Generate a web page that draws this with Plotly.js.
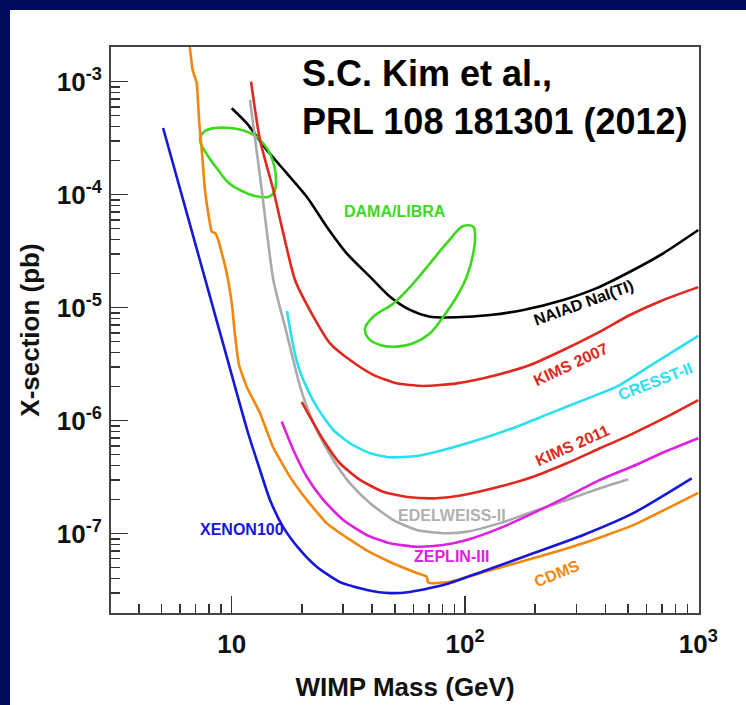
<!DOCTYPE html>
<html><head><meta charset="utf-8">
<script src="https://cdn.plot.ly/plotly-3.0.1.min.js"></script>
<style>
html,body{margin:0;padding:0;background:#020b5b;width:746px;height:705px;overflow:hidden}
#chart{position:absolute;left:10px;top:10px;width:736px;height:695px;background:#fff}
</style>
</head><body><div id="chart"></div>
<script>
// ---- data (WIMP mass in GeV, cross-section in pb) ----
const xenonMass = [5.08, 6.63, 7.99, 9.09, 11.75, 13.22, 14.59, 16.6, 19.63, 23.2, 29.1, 38.0, 47.7, 58.1, 70.8, 86.3, 119.8, 196, 321.5, 526.5, 937];
const xenonXsec = [3.89e-4, 5.4e-5, 1.35e-5, 5.18e-6, 7.78e-7, 3.66e-7, 1.99e-7, 1.15e-7, 7.18e-8, 5.07e-8, 3.73e-8, 3.18e-8, 2.98e-8, 3.05e-8, 3.30e-8, 3.66e-8, 4.65e-8, 6.71e-8, 9.75e-8, 1.52e-7, 3.09e-7];

const cdmsMass = [6.56, 6.80, 7.08, 7.26, 7.44, 7.68, 8.02, 8.21, 8.48, 8.76, 9.52, 10.03, 10.33, 10.75, 11.59, 13.22, 15.03, 17.78, 20.97, 25.5, 32.2, 36.5, 37.9, 47.7, 62.1, 68.5, 69.4, 72.0, 86.3, 119.8, 196, 321.5, 526.5, 1000];
const cdmsXsec = [2.34e-3, 1.27e-3, 9.74e-4, 4.32e-4, 2.49e-4, 1.10e-4, 5.97e-5, 4.71e-5, 4.58e-5, 3.97e-5, 2.03e-5, 1.05e-5, 5.73e-6, 3.11e-6, 2.0e-6, 1.17e-6, 5.85e-7, 3.18e-7, 1.99e-7, 1.24e-7, 8.80e-8, 7.48e-8, 7.1e-8, 5.62e-8, 4.49e-8, 4.16e-8, 3.71e-8, 3.64e-8, 3.76e-8, 4.55e-8, 6.05e-8, 8.22e-8, 1.19e-7, 2.3e-7];

const zeplinMass = [16.38, 18.37, 20.97, 24.70, 30.08, 37.9, 47.7, 62.1, 80.7, 101.7, 141.3, 196, 273, 379, 526.5, 732, 1000];
const zeplinXsec = [9.82e-7, 5.50e-7, 3.19e-7, 1.99e-7, 1.32e-7, 9.73e-8, 8.22e-8, 7.67e-8, 7.94e-8, 8.80e-8, 1.12e-7, 1.52e-7, 2.12e-7, 2.99e-7, 3.97e-7, 5.39e-7, 6.98e-7];

const edelweissMass = [11.98, 13.45, 15.08, 17.06, 19.30, 20.27, 23.13, 27.26, 32.15, 39.2, 49.3, 62.1, 80.7, 101.7, 141.3, 196, 273, 379, 501];
const edelweissXsec = [6.89e-4, 1.10e-4, 1.76e-5, 6.35e-6, 2.29e-6, 1.63e-6, 8.27e-7, 4.49e-7, 2.79e-7, 1.86e-7, 1.32e-7, 1.08e-7, 1.01e-7, 1.04e-7, 1.24e-7, 1.57e-7, 1.99e-7, 2.52e-7, 3.03e-7];

const kims2011Mass = [19.95, 21.66, 24.70, 29.1, 35.5, 44.6, 58.1, 75.6, 98.3, 141.3, 196, 273, 379, 526.5, 732, 1000];
const kims2011Xsec = [1.47e-6, 1.08e-6, 6.75e-7, 4.20e-7, 2.99e-7, 2.35e-7, 2.10e-7, 2.06e-7, 2.20e-7, 2.61e-7, 3.19e-7, 4.20e-7, 5.70e-7, 7.73e-7, 1.08e-6, 1.52e-6];

const cresstMass = [17.26, 18.14, 19.05, 20.27, 23.13, 27.26, 32.15, 39.2, 47.7, 62.1, 80.7, 119.8, 166.6, 231.4, 321.5, 447, 621, 1000];
const cresstXsec = [9.33e-6, 5.18e-6, 3.30e-6, 2.29e-6, 1.33e-6, 8.27e-7, 6.31e-7, 5.14e-7, 4.74e-7, 4.87e-7, 5.50e-7, 6.98e-7, 8.85e-7, 1.16e-6, 1.52e-6, 2.0e-6, 3.05e-6, 5.62e-6];

const kims2007Mass = [12.10, 13.22, 15.08, 16.64, 18.68, 22.09, 26.4, 32.15, 40.45, 50.95, 66.2, 92.1, 136.8, 189.9, 263.8, 366.9, 509.5, 707.7, 1000];
const kims2007Xsec = [1.0e-3, 3.05e-4, 1.10e-4, 4.55e-5, 1.76e-5, 8.79e-6, 4.84e-6, 3.44e-6, 2.54e-6, 2.14e-6, 2.03e-6, 2.14e-6, 2.54e-6, 3.11e-6, 4.22e-6, 5.93e-6, 8.61e-6, 1.17e-5, 1.52e-5];

const naiadMass = [10.0, 11.59, 14.13, 17.21, 20.97, 25.54, 31.1, 39.15, 47.7, 58.1, 70.8, 92.1, 128, 177.8, 263.8, 366.9, 509.5, 707.7, 1000];
const naiadXsec = [5.82e-4, 4.29e-4, 2.49e-4, 1.55e-4, 9.59e-5, 5.21e-5, 3.03e-5, 1.88e-5, 1.25e-5, 9.55e-6, 8.32e-6, 8.22e-6, 8.61e-6, 9.55e-6, 1.17e-5, 1.49e-5, 2.08e-5, 3.03e-5, 4.87e-5];

const damaLowMass = [7.31, 7.68, 8.48, 9.83, 11.40, 12.96, 14.31, 15.18, 15.49, 15.18, 14.31, 12.59, 10.85, 9.64, 8.74, 7.91, 7.31];
const damaLowXsec = [3.05e-4, 3.66e-4, 3.89e-4, 3.89e-4, 3.66e-4, 3.18e-4, 2.49e-4, 1.83e-4, 1.35e-4, 1.04e-4, 9.55e-5, 9.74e-5, 1.10e-4, 1.29e-4, 1.66e-4, 2.20e-4, 3.05e-4];

const damaHighMass = [108.5, 98.3, 83.5, 70.8, 60.0, 49.3, 40.45, 37.3, 38.5, 43.2, 50.95, 60.0, 70.8, 80.7, 92.1, 101.7, 108.5, 110.4, 108.5];
const damaHighXsec = [5.21e-5, 5.28e-5, 3.72e-5, 2.47e-5, 1.64e-5, 1.09e-5, 8.32e-6, 6.58e-6, 5.36e-6, 4.68e-6, 4.52e-6, 4.84e-6, 5.93e-6, 8.32e-6, 1.25e-5, 1.88e-5, 3.03e-5, 4.55e-5, 5.21e-5];

const xTickVals = [10, 100, 1000];
const xTickText = ['10', '10<sup>2</sup>', '10<sup>3</sup>'];
const yTickVals = [1e-3, 1e-4, 1e-5, 1e-6, 1e-7];
const yTickText = ['10<sup>-3</sup>', '10<sup>-4</sup>', '10<sup>-5</sup>', '10<sup>-6</sup>', '10<sup>-7</sup>'];

// ---- styling ----
const C = {
  xenon: '#1616dc', cdms: '#f2870c', zeplin: '#e020e0', edel: '#aaaaaa',
  kims: '#e0281e', cresst: '#2ae0ee', naiad: '#000000', dama: '#3ed81e'
};
const FONT = 'Liberation Sans, Arial, Helvetica, sans-serif';

function curve(x, y, color, smooth) {
  return {x: x, y: y, type: 'scatter', mode: 'lines', hoverinfo: 'skip',
    line: {color: color, width: 2.6, shape: 'spline', smoothing: smooth}};
}
const traces = [
  curve(naiadMass, naiadXsec, C.naiad, 0.7),
  curve(damaLowMass, damaLowXsec, C.dama, 1),
  curve(damaHighMass, damaHighXsec, C.dama, 1),
  curve(kims2007Mass, kims2007Xsec, C.kims, 0.6),
  curve(cresstMass, cresstXsec, C.cresst, 0.6),
  curve(edelweissMass, edelweissXsec, C.edel, 0.6),
  curve(kims2011Mass, kims2011Xsec, C.kims, 0.6),
  curve(zeplinMass, zeplinXsec, C.zeplin, 0.6),
  curve(cdmsMass, cdmsXsec, C.cdms, 0.35),
  curve(xenonMass, xenonXsec, C.xenon, 0.6)
];

const xMinor = [], yMinor = [];
for (let e = 0; e <= 2; e++) for (let d = 2; d <= 9; d++) xMinor.push(d * Math.pow(10, e));
for (let e = -8; e <= -3; e++) for (let d = 2; d <= 9; d++) yMinor.push(d * Math.pow(10, e));

function lab(text, lx, ly, color, angle) {
  return {text: '<b>' + text + '</b>', x: lx, y: ly, xref: 'x', yref: 'y', showarrow: false,
    xanchor: 'center', yanchor: 'middle', textangle: angle || 0,
    font: {family: FONT, size: 16, color: color}};
}
const annotations = [
  lab('DAMA/LIBRA', 1.700, -4.153, C.dama, 0),
  lab('NAIAD NaI(TI)', 2.510, -4.950, '#000', -20),
  lab('KIMS 2007', 2.454, -5.507, C.kims, -25),
  lab('CRESST-II', 2.814, -5.649, C.cresst, -21),
  lab('KIMS 2011', 2.459, -6.224, C.kims, -24),
  lab('EDELWEISS-II', 1.944, -6.843, '#b0b0b0', 0),
  lab('ZEPLIN-III', 1.944, -7.206, C.zeplin, 0),
  lab('CDMS', 2.394, -7.348, C.cdms, -22),
  lab('XENON100', 1.045, -6.967, C.xenon, 0),
  {text: '<b>S.C. Kim et al.,</b>', xref: 'paper', yref: 'paper', x: 0.3214, y: 0.954,
   xanchor: 'left', yanchor: 'middle', showarrow: false, font: {family: FONT, size: 36, color: '#000'}},
  {text: '<b>PRL 108 181301 (2012)</b>', xref: 'paper', yref: 'paper', x: 0.3214, y: 0.8675,
   xanchor: 'left', yanchor: 'middle', showarrow: false, font: {family: FONT, size: 36, color: '#000'}}
];

const axisCommon = {
  type: 'log', showline: true, linecolor: '#444', linewidth: 2, mirror: true,
  ticks: 'inside', ticklen: 17, tickwidth: 1.5, tickcolor: '#333',
  showgrid: false, zeroline: false, automargin: false, tickmode: 'array',
  tickfont: {family: FONT, size: 26, color: '#111', weight: 'bold'}
};
const layout = {
  width: 736, height: 695, showlegend: false,
  paper_bgcolor: '#ffffff', plot_bgcolor: '#ffffff',
  margin: {l: 101, r: 47, t: 37, b: 92},
  xaxis: Object.assign({}, axisCommon, {
    range: [0.4826, 3.003], tickvals: xTickVals, ticktext: xTickText, ticklabelstandoff: 7,
    minor: {tickmode: 'array', tickvals: xMinor, ticks: 'inside', ticklen: 9, tickwidth: 1.5, tickcolor: '#333', showgrid: false},
    title: {text: '<b>WIMP Mass (GeV)</b>', font: {family: FONT, size: 26, color: '#111'}, standoff: 20}
  }),
  yaxis: Object.assign({}, axisCommon, {
    range: [-7.702, -2.693], tickvals: yTickVals, ticktext: yTickText, ticklabelstandoff: 2,
    minor: {tickmode: 'array', tickvals: yMinor, ticks: 'inside', ticklen: 9, tickwidth: 1.5, tickcolor: '#333', showgrid: false},
    title: {text: '<b>X-section (pb)</b>', font: {family: FONT, size: 26, color: '#111'}, standoff: 10}
  }),
  annotations: annotations
};
Plotly.newPlot('chart', traces, layout, {displayModeBar: false, staticPlot: true});
</script>
</body></html>
